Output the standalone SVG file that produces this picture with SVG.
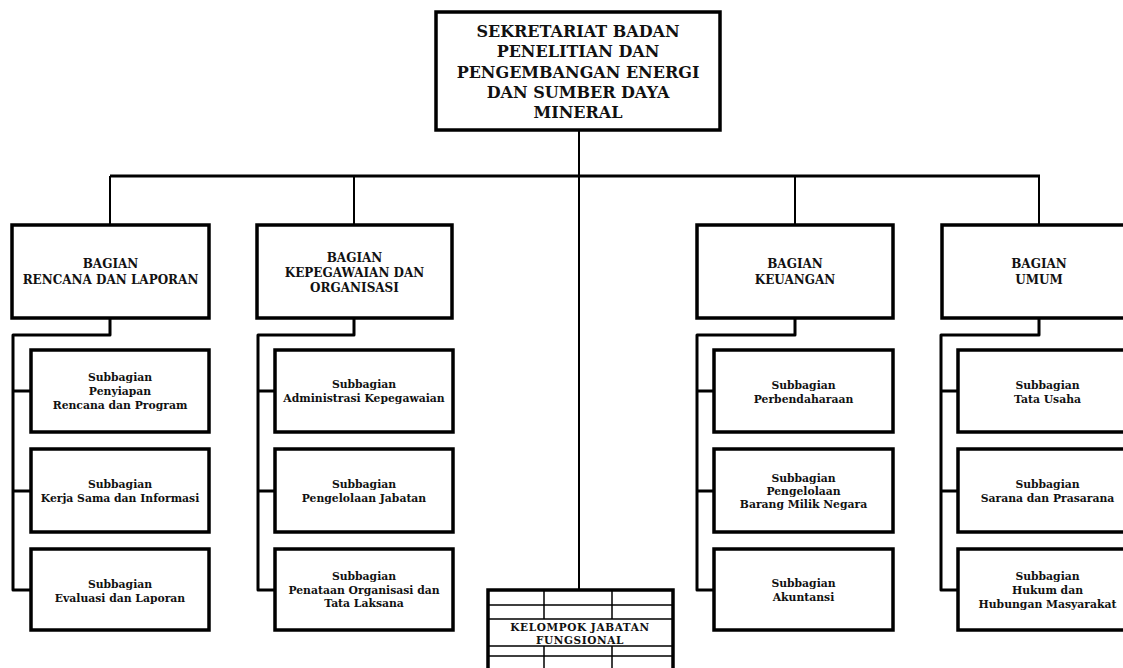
<svg xmlns="http://www.w3.org/2000/svg" width="1123" height="668" viewBox="0 0 1123 668">
<style>
.box{fill:#fff;stroke:#000;stroke-width:3.5}
.sub{fill:#fff;stroke:#000;stroke-width:3.5}
.ln{fill:none;stroke:#000;stroke-width:3;stroke-linejoin:round}
.thin{fill:none;stroke:#000;stroke-width:2}
.grid{fill:none;stroke:#000;stroke-width:1.5}
text{font-family:"DejaVu Serif","Liberation Serif",serif;font-weight:bold;fill:#111;text-anchor:middle}
.t1{font-size:16px}
.t2{font-size:12px}
.t3{font-size:10.8px}
.t4{font-size:10.5px;letter-spacing:0.6px}
</style>
<rect width="1123" height="668" fill="#fff"/>
<g id="connectors">
<path class="ln" d="M110,176 H1040"/>
<path class="thin" d="M579,130 V590"/>
<path class="thin" d="M110,176 V225 M354,176 V225 M795,176 V225 M1039,176 V225"/>
<path class="ln" d="M110,318 V335 H13 V590 H31 M13,391 H31 M13,491 H31"/>
<path class="ln" d="M354,318 V335 H258 V590 H275 M258,391 H275 M258,491 H275"/>
<path class="ln" d="M795,318 V335 H697 V590 H714 M697,391 H714 M697,491 H714"/>
<path class="ln" d="M1039,318 V335 H941 V590 H958 M941,391 H958 M941,491 H958"/>
</g>
<g id="sekretariat">
<rect class="box" x="436" y="12" width="284" height="118"/>
<text class="t1" x="578" y="37">SEKRETARIAT BADAN</text>
<text class="t1" x="578" y="57">PENELITIAN DAN</text>
<text class="t1" x="578" y="78">PENGEMBANGAN ENERGI</text>
<text class="t1" x="578" y="98">DAN SUMBER DAYA</text>
<text class="t1" x="578" y="118">MINERAL</text>
</g>
<g id="bagian-rencana">
<rect class="box" x="12" y="225" width="197" height="93"/>
<text class="t2" x="110.5" y="268">BAGIAN</text>
<text class="t2" x="110.5" y="284">RENCANA DAN LAPORAN</text>
</g>
<g id="bagian-kepegawaian">
<rect class="box" x="257" y="225" width="195" height="93"/>
<text class="t2" x="354.5" y="262">BAGIAN</text>
<text class="t2" x="354.5" y="277">KEPEGAWAIAN DAN</text>
<text class="t2" x="354.5" y="292">ORGANISASI</text>
</g>
<g id="bagian-keuangan">
<rect class="box" x="697" y="225" width="196" height="93"/>
<text class="t2" x="795" y="268">BAGIAN</text>
<text class="t2" x="795" y="284">KEUANGAN</text>
</g>
<g id="bagian-umum">
<rect class="box" x="942" y="225" width="194" height="93"/>
<text class="t2" x="1039" y="268">BAGIAN</text>
<text class="t2" x="1039" y="284">UMUM</text>
</g>
<g id="sub-penyiapan">
<rect class="sub" x="31" y="350" width="178" height="82"/>
<text class="t3" x="120" y="381">Subbagian</text>
<text class="t3" x="120" y="395">Penyiapan</text>
<text class="t3" x="120" y="409">Rencana dan Program</text>
</g>
<g id="sub-kerjasama">
<rect class="sub" x="31" y="449" width="178" height="83"/>
<text class="t3" x="120" y="488">Subbagian</text>
<text class="t3" x="120" y="502">Kerja Sama dan Informasi</text>
</g>
<g id="sub-evaluasi">
<rect class="sub" x="31" y="549" width="178" height="81"/>
<text class="t3" x="120" y="588">Subbagian</text>
<text class="t3" x="120" y="602">Evaluasi dan Laporan</text>
</g>
<g id="sub-administrasi">
<rect class="sub" x="275" y="350" width="178" height="82"/>
<text class="t3" x="364" y="388">Subbagian</text>
<text class="t3" x="364" y="402">Administrasi Kepegawaian</text>
</g>
<g id="sub-jabatan">
<rect class="sub" x="275" y="449" width="178" height="83"/>
<text class="t3" x="364" y="488">Subbagian</text>
<text class="t3" x="364" y="502">Pengelolaan Jabatan</text>
</g>
<g id="sub-penataan">
<rect class="sub" x="275" y="549" width="178" height="81"/>
<text class="t3" x="364" y="580">Subbagian</text>
<text class="t3" x="364" y="594">Penataan Organisasi dan</text>
<text class="t3" x="364" y="607">Tata Laksana</text>
</g>
<g id="sub-perbendaharaan">
<rect class="sub" x="714" y="350" width="179" height="82"/>
<text class="t3" x="803.5" y="389">Subbagian</text>
<text class="t3" x="803.5" y="403">Perbendaharaan</text>
</g>
<g id="sub-bmn">
<rect class="sub" x="714" y="449" width="179" height="83"/>
<text class="t3" x="803.5" y="482">Subbagian</text>
<text class="t3" x="803.5" y="495">Pengelolaan</text>
<text class="t3" x="803.5" y="508">Barang Milik Negara</text>
</g>
<g id="sub-akuntansi">
<rect class="sub" x="714" y="549" width="179" height="81"/>
<text class="t3" x="803.5" y="587">Subbagian</text>
<text class="t3" x="803.5" y="601">Akuntansi</text>
</g>
<g id="sub-tatausaha">
<rect class="sub" x="958" y="350" width="179" height="82"/>
<text class="t3" x="1047.5" y="389">Subbagian</text>
<text class="t3" x="1047.5" y="403">Tata Usaha</text>
</g>
<g id="sub-sarana">
<rect class="sub" x="958" y="449" width="179" height="83"/>
<text class="t3" x="1047.5" y="488">Subbagian</text>
<text class="t3" x="1047.5" y="502">Sarana dan Prasarana</text>
</g>
<g id="sub-hukum">
<rect class="sub" x="958" y="549" width="179" height="81"/>
<text class="t3" x="1047.5" y="580">Subbagian</text>
<text class="t3" x="1047.5" y="594">Hukum dan</text>
<text class="t3" x="1047.5" y="608">Hubungan Masyarakat</text>
</g>
<g id="kelompok-fungsional">
<rect class="box" x="488" y="590" width="185" height="84"/>
<path class="grid" d="M488,605 H673 M488,619 H673 M488,646 H673 M488,656 H673 M544,590 V619 M612,590 V619 M544,646 V668 M612,646 V668"/>
<text class="t4" x="580" y="631">KELOMPOK JABATAN</text>
<text class="t4" x="580" y="644">FUNGSIONAL</text>
</g>
</svg>
